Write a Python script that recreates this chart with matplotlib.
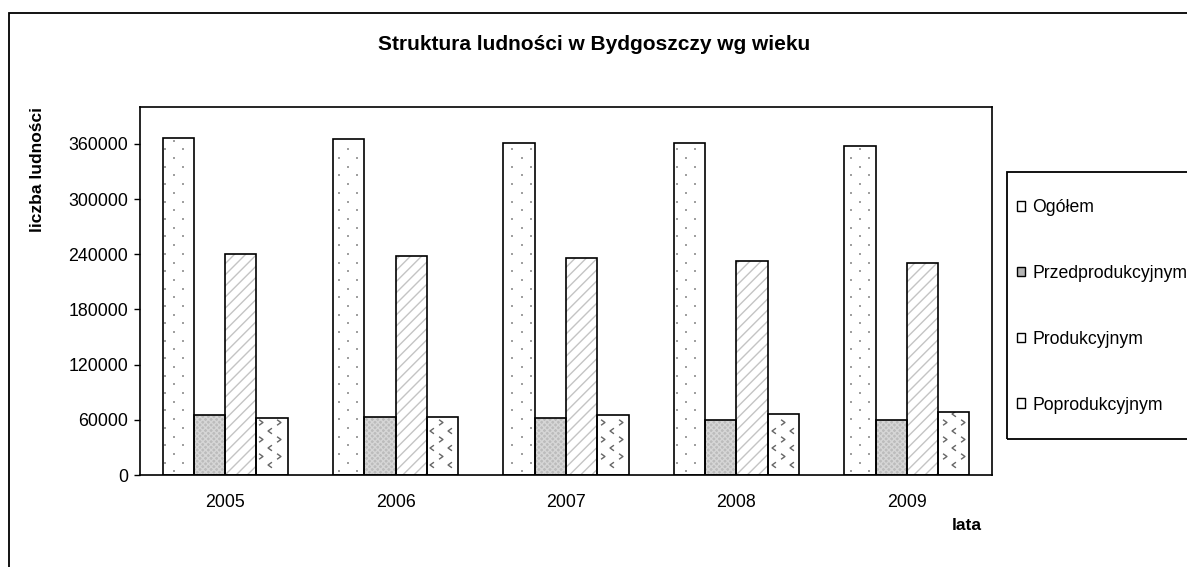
import numpy as np
import matplotlib
matplotlib.use("Agg")
import matplotlib.pyplot as plt
from matplotlib.patches import Rectangle, Patch
from matplotlib.path import Path

# ---------------- data ----------------
years = ["2005", "2006", "2007", "2008", "2009"]
series_names = ["Ogółem", "Przedprodukcyjnym", "Produkcyjnym", "Poprodukcyjnym"]
ogolem = [366600, 364700, 360900, 361200, 357600]
przedprod = [65200, 63400, 61600, 59800, 59800]
produkcyjnym = [239900, 238000, 236200, 232600, 230800]
poprod = [61600, 63400, 64900, 66600, 68800]
y_ticks = [0, 60000, 120000, 180000, 240000, 300000, 360000]

title = "Struktura ludności w Bydgoszczy wg wieku"
ylabel = "liczba ludności"
xlabel = "lata"

plt.rcParams["font.family"] = ["Liberation Sans", "DejaVu Sans"]
plt.rcParams["hatch.linewidth"] = 1.0

W, H = 1187, 567
fig = plt.figure(figsize=(W / 100, H / 100), dpi=100)
fig.patch.set_facecolor("white")

# axes placed in pixel coords of the reference
ax_l, ax_r, ax_t, ax_b = 140, 992, 107, 475
ax = fig.add_axes([ax_l / W, 1 - ax_b / H, (ax_r - ax_l) / W, (ax_b - ax_t) / H])
ax.set_xlim(-0.5, len(years) - 0.5)
ax.set_ylim(0, 400000)

x = np.arange(len(years))
bw = 0.1834
offsets = [-1.5 * bw, -0.5 * bw, 0.5 * bw, 1.5 * bw]
values = [ogolem, przedprod, produkcyjnym, poprod]
faces = ["white", "#bcbcbc", "white", "white"]
hatches = [None, "xxxxxx", "///", None]
hatch_cols = ["white", "#d6d6d6", "#c4c4c4", "white"]

bar_groups = []
for vals, off, fc, h, hc in zip(values, offsets, faces, hatches, hatch_cols):
    b = ax.bar(x + off, vals, bw, facecolor=fc, edgecolor=hc, hatch=h,
               linewidth=0, zorder=2)
    bar_groups.append(b)
    ax.bar(x + off, vals, bw, fill=False, edgecolor="black", linewidth=1.2,
           zorder=5)


def texture(rects, dx, dy, markers, color, size, lw=0.0, filled=True):
    inv = ax.transData.inverted()
    for r in rects:
        (x0, y0) = ax.transData.transform((r.get_x(), r.get_y()))
        (x1, y1) = ax.transData.transform((r.get_x() + r.get_width(),
                                           r.get_y() + r.get_height()))
        rows = np.arange(np.floor(y0 / dy) * dy, y1 + dy, dy)
        for yy in rows:
            k = int(round(yy / dy))
            shift = (dx / 2) if k % 2 else 0.0
            cols = np.arange(np.floor(x0 / dx) * dx + shift - dx, x1 + dx, dx)
            pts = [(cx, yy) for cx in cols
                   if x0 + 2 < cx < x1 - 2 and y0 + 2 < yy < y1 - 2]
            if not pts:
                continue
            d = inv.transform(np.array(pts))
            m = markers[k % len(markers)]
            if filled:
                sc = ax.scatter(d[:, 0], d[:, 1], marker=m, s=size, c=color,
                                linewidths=0, zorder=3)
            else:
                sc = ax.scatter(d[:, 0], d[:, 1], marker=m, s=size,
                                facecolors="none", edgecolors=color,
                                linewidths=lw, zorder=3)
            sc.set_clip_path(r)


# Ogółem: sparse grey dots
texture(bar_groups[0], 18.3, 8.7, ["s"], "#a0a0a0", 2.4)
# Poprodukcyjnym: chevrons
chev_l = Path([(0.35, 0.5), (-0.35, 0.0), (0.35, -0.5)],
              [Path.MOVETO, Path.LINETO, Path.LINETO])
chev_r = Path([(-0.35, 0.5), (0.35, 0.0), (-0.35, -0.5)],
              [Path.MOVETO, Path.LINETO, Path.LINETO])
texture(bar_groups[3], 18.0, 8.5, [chev_l, chev_r], "#666666", 16,
        lw=1.0, filled=False)

# axes styling
for s in ax.spines.values():
    s.set_linewidth(1.2)
    s.set_color("black")
ax.set_yticks(y_ticks)
ax.set_yticklabels([str(v) for v in y_ticks])
ax.tick_params(axis="y", direction="out", length=4.5, width=1.0,
               labelsize=12.8, pad=4)
ax.set_xticks(x)
ax.set_xticklabels(years)
ax.tick_params(axis="x", length=0, labelsize=12.8, pad=14)

# texts
fig.text(594 / W, 1 - 44 / H, title, ha="center", va="center",
         fontsize=15, fontweight="bold")
fig.text(38 / W, 1 - 170 / H, ylabel, ha="center", va="center",
         rotation=90, fontsize=12.5, fontweight="bold")
fig.text(967 / W, 1 - 525 / H, xlabel, ha="center", va="center",
         fontsize=12.5, fontweight="bold")

# outer chart frame (extends past right/bottom edge)
fig.add_artist(Rectangle((9 / W, -0.2), 1.5, 1.2 - 12.7 / H,
                         transform=fig.transFigure, fill=False,
                         edgecolor="black", linewidth=1.3))
# legend frame
fig.add_artist(Rectangle((1007 / W, 1 - 439 / H), 0.5, (439 - 172) / H,
                         transform=fig.transFigure, fill=False,
                         edgecolor="black", linewidth=1.3))

handles = [Patch(facecolor=f, edgecolor="black", linewidth=1.0)
           for f in ["white", "#b4b4b4", "white", "white"]]
fig.legend(handles, series_names, loc="upper left",
           bbox_to_anchor=(1017 / W, 1 - 199 / H),
           bbox_transform=fig.transFigure, frameon=False, borderpad=0,
           borderaxespad=0, fontsize=12.7, handlelength=0.47,
           handleheight=0.47, handletextpad=0.4, labelspacing=2.77)

fig.savefig("out.png", dpi=100, facecolor="white")
